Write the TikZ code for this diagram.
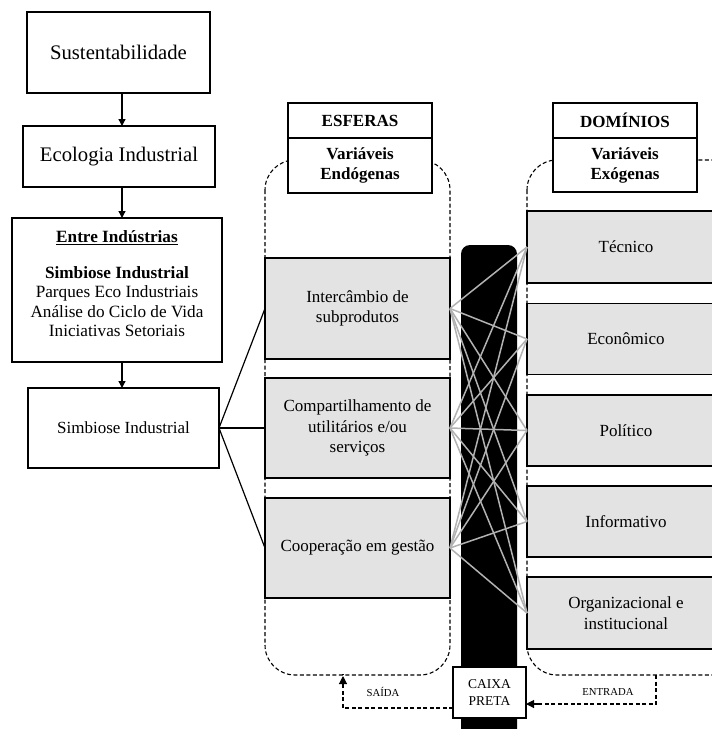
\documentclass[tikz,border=0pt]{standalone}
\usepackage{fontspec}
\setmainfont{Liberation Serif}
\usetikzlibrary{arrows.meta}
\begin{document}
\begin{tikzpicture}[x=1pt,y=-1pt,
  box/.style={draw=black, line width=1.3pt, fill=white, inner sep=2pt, outer sep=0pt, align=center},
  gbox/.style={box, fill=gray!22},
  arr/.style={-{Triangle[length=7pt,width=7pt]}, line width=1.3pt},
  dsh/.style={dashed, dash pattern=on 4pt off 2.5pt, line width=1.1pt},
  link/.style={line width=1.5pt, draw=black!30},
  txt/.style={font=\fontsize{17}{20.5}\selectfont},
  hdr/.style={font=\bfseries\fontsize{17}{20}\selectfont},
  sml/.style={font=\fontsize{10.7}{12}\selectfont, inner sep=1pt}]
\clip (0,0) rectangle (712,729);
\fill[white] (0,0) rectangle (712,729);

% left column
\node[box, minimum width=183pt, minimum height=81pt, font=\fontsize{20.7}{24}\selectfont] (sust) at (118.5,52.5) {Sustentabilidade};
\node[box, minimum width=192pt, minimum height=61pt, font=\fontsize{20.7}{24}\selectfont] (eco) at (119,156.5) {Ecologia Industrial};
\node[box, minimum width=210pt, minimum height=144pt] (entre) at (117,290) {};
\node[font=\fontsize{17.2}{19.5}\selectfont, align=center, inner sep=0pt, anchor=north] (entretxt) at (117,230)
  {\textbf{\underline{Entre Indústrias}}\\[16.5pt]\textbf{Simbiose Industrial}\\Parques Eco Industriais\\Análise do Ciclo de Vida\\Iniciativas Setoriais};
\node[box, minimum width=191pt, minimum height=80pt, txt] (simb) at (123.5,428) {Simbiose Industrial};
\coordinate (ax) at (122,0);
\draw[arr] (sust.south -| ax) -- (eco.north -| ax);
\draw[arr] (eco.south -| ax) -- (entre.north -| ax);
\draw[arr] (entre.south -| ax) -- (simb.north -| ax);

% containers
\draw[dsh, rounded corners=30pt] (265,160) rectangle (450,675);
\draw[dsh, rounded corners=30pt] (527,160) rectangle (745,675);

% black box
\fill[black, rounded corners=9pt] (461,245) rectangle (517,740);

% headers
\node[box, minimum width=144pt, minimum height=35pt, hdr] (esf) at (360,120.5) {ESFERAS};
\node[box, minimum width=144pt, minimum height=55pt, hdr] (endo) at (360,165.5) {Variáveis\\Endógenas};
\node[box, minimum width=144pt, minimum height=35pt, hdr] (dom) at (625,120.5) {DOMÍNIOS};
\node[box, minimum width=144pt, minimum height=54pt, hdr] (exo) at (625,165) {Variáveis\\Exógenas};

% spheres
\node[gbox, minimum width=185pt, minimum height=101pt, txt] (s1) at (357.5,308.5) {Intercâmbio de\\subprodutos};
\node[gbox, minimum width=185pt, minimum height=100pt, txt] (s2) at (357.5,428) {Compartilhamento de\\utilitários e/ou\\serviços};
\node[gbox, minimum width=185pt, minimum height=100pt, txt] (s3) at (357.5,548) {Cooperação em gestão};

% domains
\node[gbox, minimum width=198pt, minimum height=72pt, txt] (d1) at (626,247) {Técnico};
\node[gbox, minimum width=198pt, minimum height=71pt, txt] (d2) at (626,339) {Econômico};
\node[gbox, minimum width=198pt, minimum height=71pt, txt] (d3) at (626,430.5) {Político};
\node[gbox, minimum width=198pt, minimum height=71pt, txt] (d4) at (626,521.5) {Informativo};
\node[gbox, minimum width=198pt, minimum height=72pt, txt] (d5) at (626,613) {Organizacional e\\institucional};

% links from simbiose
\draw[line width=1.2pt] (simb.east) -- (s1.west);
\draw[line width=1.2pt] (simb.east) -- (s2.west);
\draw[line width=1.2pt] (simb.east) -- (s3.west);

% gray links
\foreach \s in {s1,s2,s3}{
  \foreach \d in {d1,d2,d3,d4,d5}{
    \draw[link] (\s.east) -- (\d.west);
  }
}

% caixa preta
\node[box, minimum width=73pt, minimum height=51pt, font=\fontsize{13.5}{17}\selectfont] (cx) at (489.5,692.5) {CAIXA\\PRETA};
\coordinate (saidaend) at (343,676);
\coordinate (entstart) at (656,675);
\draw[dsh] ([yshift=-15.5pt]cx.west) -| ([yshift=2pt]saidaend);
\draw[-{Triangle[length=8pt,width=8pt]}, line width=1.1pt] (343,686) -- (saidaend);
\draw[dsh] (entstart) |- (536,704);
\draw[-{Triangle[length=8pt,width=8pt]}, line width=1.1pt] (538,704) -- ([yshift=-11.5pt]cx.east);
\node[sml] (lsaida) at (383,692) {SAÍDA};
\node[sml] (lent) at (608,692) {ENTRADA};
\end{tikzpicture}
\end{document}
